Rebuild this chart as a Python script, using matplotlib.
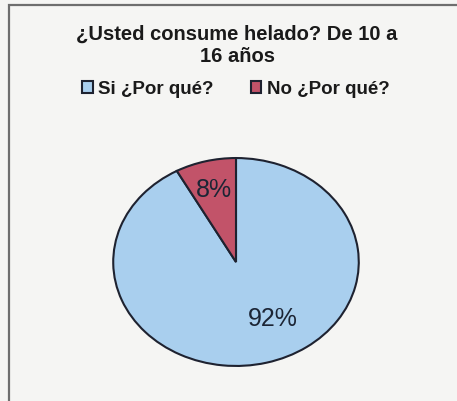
import matplotlib.pyplot as plt
from matplotlib.patches import Rectangle

# Encuesta: consumo de helado, 10 a 16 años
etiquetas = ['Si ¿Por qué?', 'No ¿Por qué?']
porcentajes = [92, 8]
colores = ['#a9cfee', '#c25369']
titulo = '¿Usted consume helado? De 10 a\n16 años'

plt.rcParams['font.family'] = ['Liberation Sans', 'DejaVu Sans']

W, H = 457, 401
fig = plt.figure(figsize=(W / 100, H / 100), dpi=100)
fig.patch.set_facecolor('#f5f5f3')

# marco del grafico (solo se ven los bordes superior e izquierdo)
fig.patches.append(Rectangle((9 / W, -0.1), 1.2, 1 - 5 / H + 0.1,
                             transform=fig.transFigure, fill=False,
                             edgecolor='#6e6e6e', linewidth=1.6))

# la torta es una elipse: ejes mas anchos que altos
ax = fig.add_axes([112 / W, (H - 367) / H, 248 / W, 210 / H])
wedges, texts, autotexts = ax.pie(
    porcentajes, colors=colores, startangle=90, counterclock=False,
    autopct='%d%%', pctdistance=0.72,
    wedgeprops=dict(edgecolor='#1e2230', linewidth=1.5),
    textprops=dict(fontsize=18, color='#1c2535'))
ax.set_aspect('auto')
ax.set_xlim(-1.01, 1.01)
ax.set_ylim(-1.01, 1.01)

# etiqueta del 92% mas abajo a la derecha
autotexts[0].set_position((0.30, -0.55))

fig.text(237 / W, 1 - 45 / H, titulo, ha='center', va='center',
         fontsize=14.5, fontweight='bold', color='#1a1a1a', linespacing=1.2)

fig.legend(wedges, etiquetas, loc='center', bbox_to_anchor=(236 / W, 1 - 89 / H),
           ncol=2, frameon=False, handlelength=0.55, handleheight=0.55,
           handletextpad=0.3, columnspacing=2.0,
           prop=dict(size=13.5, weight='bold'), labelcolor='#1a1a1a')

fig.savefig('out.png', dpi=100, facecolor=fig.get_facecolor())
